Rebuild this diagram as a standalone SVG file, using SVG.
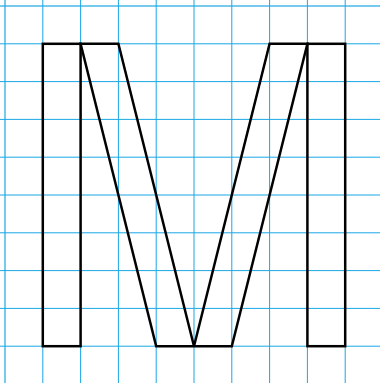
<svg xmlns="http://www.w3.org/2000/svg" width="380" height="383" viewBox="0 0 380 383">
<style>
.grid line{stroke:#1aa7e6;stroke-width:1}
.m{fill:none;stroke:#000;stroke-width:2.5;stroke-linejoin:miter}
</style>
<rect width="380" height="383" fill="#fff"/>
<g id="grid" class="grid">
<line x1="5" y1="0" x2="5" y2="383" stroke-opacity="0.6" style="stroke-width:2"/>
<line x1="42.8" y1="0" x2="42.8" y2="383"/>
<line x1="80.6" y1="0" x2="80.6" y2="383"/>
<line x1="118.4" y1="0" x2="118.4" y2="383"/>
<line x1="156.2" y1="0" x2="156.2" y2="383"/>
<line x1="194" y1="0" x2="194" y2="383"/>
<line x1="231.8" y1="0" x2="231.8" y2="383"/>
<line x1="269.6" y1="0" x2="269.6" y2="383"/>
<line x1="307.4" y1="0" x2="307.4" y2="383"/>
<line x1="345.2" y1="0" x2="345.2" y2="383"/>
<line x1="0" y1="6" x2="380" y2="6" stroke-opacity="0.6" style="stroke-width:2"/>
<line x1="0" y1="43.8" x2="380" y2="43.8"/>
<line x1="0" y1="81.6" x2="380" y2="81.6"/>
<line x1="0" y1="119.4" x2="380" y2="119.4"/>
<line x1="0" y1="157.2" x2="380" y2="157.2"/>
<line x1="0" y1="195" x2="380" y2="195"/>
<line x1="0" y1="232.8" x2="380" y2="232.8"/>
<line x1="0" y1="270.6" x2="380" y2="270.6"/>
<line x1="0" y1="308.4" x2="380" y2="308.4"/>
<line x1="0" y1="346.2" x2="380" y2="346.2"/>
</g>
<g id="letter-m">
<rect class="m" x="42.8" y="43.8" width="37.8" height="302.4"/>
<rect class="m" x="307.4" y="43.8" width="37.8" height="302.4"/>
<path class="m" d="M80.6 43.8 L118.4 43.8 L194 346.2 L269.6 43.8 L307.4 43.8 L231.8 346.2 L156.2 346.2 Z"/>
</g>
</svg>
